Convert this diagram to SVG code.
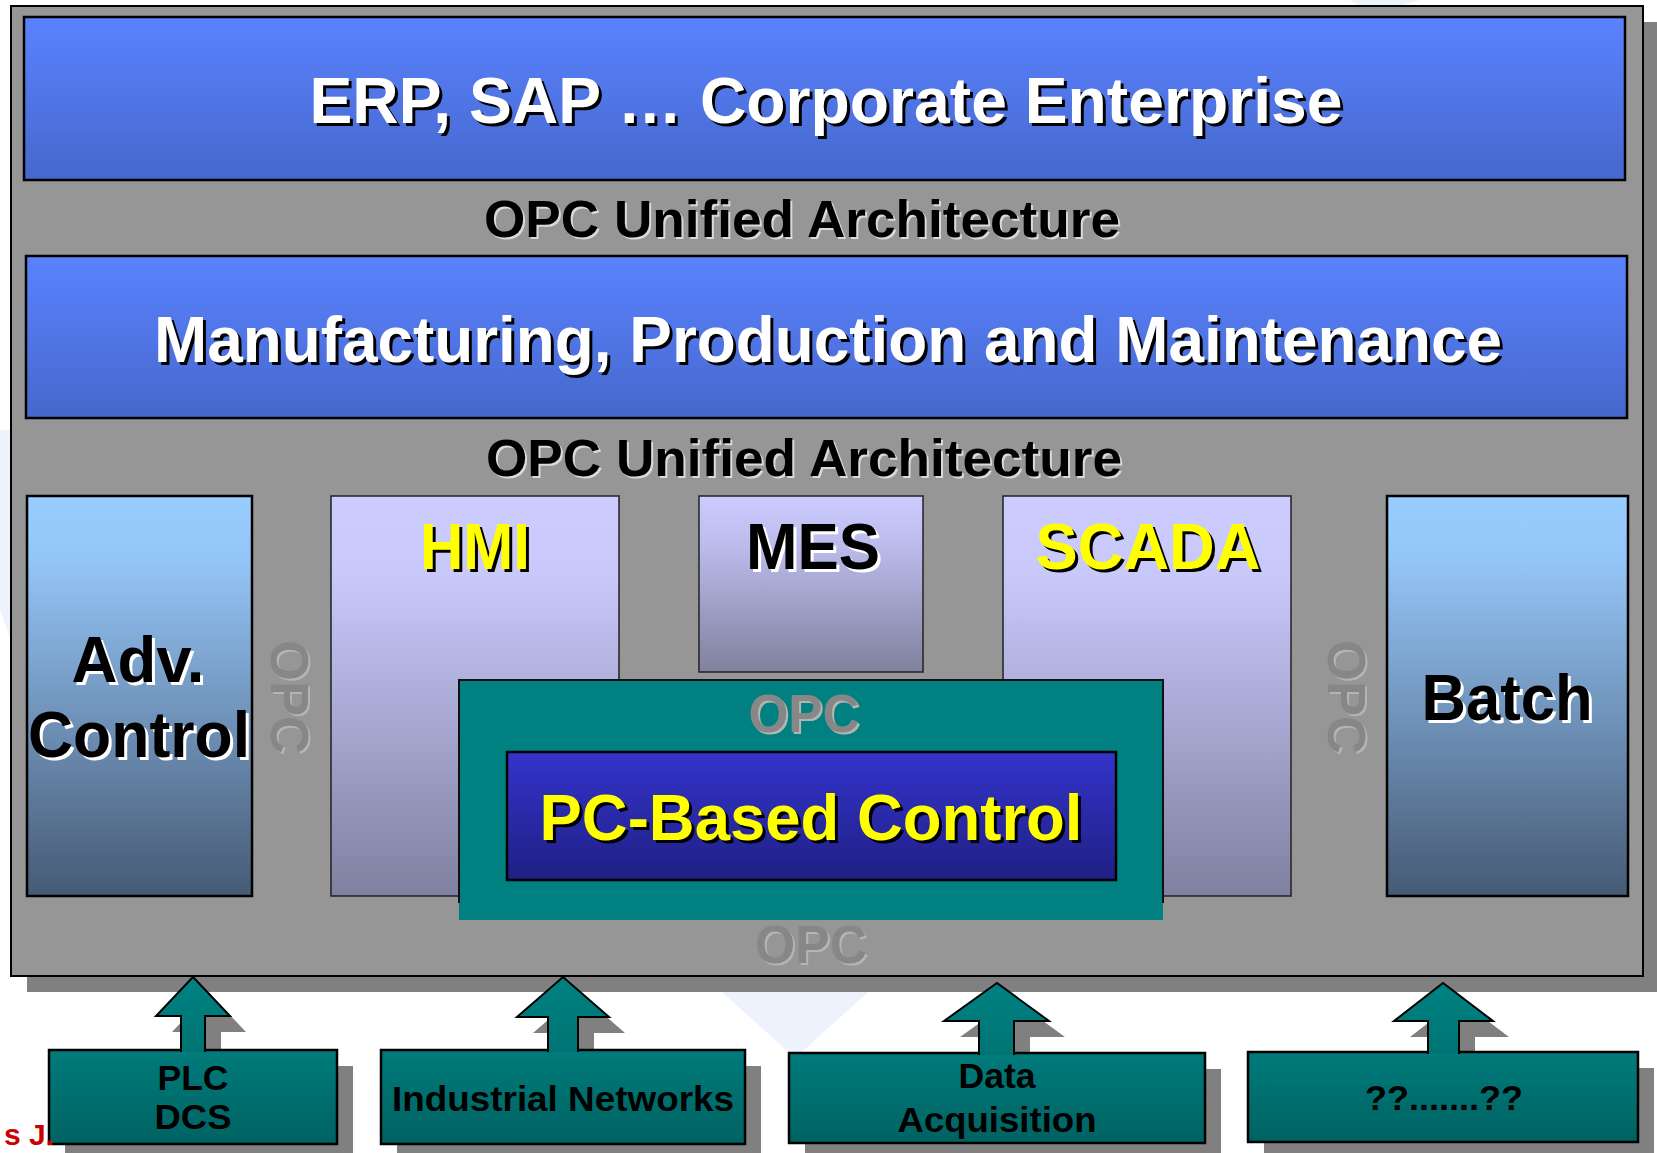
<svg xmlns="http://www.w3.org/2000/svg" width="1657" height="1153" viewBox="0 0 1657 1153">
<defs>
<linearGradient id="gBlue" x1="0" y1="0" x2="0" y2="1"><stop offset="0" stop-color="#5b82ff"/><stop offset="1" stop-color="#4568cc"/></linearGradient>
<linearGradient id="gSky" x1="0" y1="0" x2="0" y2="1"><stop offset="0" stop-color="#99ccff"/><stop offset="0.15" stop-color="#95c6f8"/><stop offset="1" stop-color="#465a74"/></linearGradient>
<linearGradient id="gLav" x1="0" y1="0" x2="0" y2="1"><stop offset="0" stop-color="#ccccff"/><stop offset="0.2" stop-color="#c8c8fb"/><stop offset="1" stop-color="#8080a0"/></linearGradient>
<linearGradient id="gMes" x1="0" y1="0" x2="0" y2="1"><stop offset="0" stop-color="#ccccff"/><stop offset="0.3" stop-color="#babaea"/><stop offset="1" stop-color="#80809e"/></linearGradient>
<linearGradient id="gPC" x1="0" y1="0" x2="0" y2="1"><stop offset="0" stop-color="#3434cc"/><stop offset="1" stop-color="#1f1f84"/></linearGradient>
<linearGradient id="gTeal" x1="0" y1="0" x2="0" y2="1"><stop offset="0" stop-color="#007b7b"/><stop offset="1" stop-color="#006262"/></linearGradient>
<linearGradient id="gArrow" x1="0" y1="0" x2="0" y2="1"><stop offset="0" stop-color="#008282"/><stop offset="1" stop-color="#007474"/></linearGradient>
<style>
text{font-family:"Liberation Sans",Arial,sans-serif;font-weight:bold;text-anchor:middle}
.box{stroke:#000;stroke-width:2.5}
.thin{stroke:#222;stroke-width:1.5}
.shadow{fill:#808080}
.big{font-size:64px}
.ua{font-size:52px}
.opc{font-size:53px}
.lbl{font-size:35px;fill:#000}
.wht{fill:#fff}
.blk{fill:#000}
.yel{fill:#ffff00}
.hl{fill:#dadada}
.og{fill:#878787}
.ohl{fill:#b4b4b4}
.arrow{fill:url(#gArrow);stroke:#000;stroke-width:2}
</style>
</defs>
<rect width="1657" height="1153" fill="#fff"/>
<g id="watermark" fill="#eef2fc">
<polygon points="704,976 886,976 795,1058"/>
<polygon points="0,430 11,430 11,640 0,610"/>
<polygon points="1350,0 1420,0 1400,6 1360,6"/>
</g>
<g id="panel">
<rect x="27" y="22" width="1632" height="970" class="shadow"/>
<rect x="11" y="6" width="1632" height="970" fill="#969696" stroke="#000" stroke-width="2"/>
</g>
<g id="erp">
<rect x="24" y="17" width="1601" height="163" fill="url(#gBlue)" class="box"/>
<text x="829" y="126" class="big blk" textLength="1033" lengthAdjust="spacingAndGlyphs">ERP, SAP … Corporate Enterprise</text>
<text x="826" y="123" class="big wht" textLength="1033" lengthAdjust="spacingAndGlyphs">ERP, SAP … Corporate Enterprise</text>
</g>
<g id="opcua1">
<text x="804" y="239" class="ua hl" textLength="636" lengthAdjust="spacingAndGlyphs">OPC Unified Architecture</text>
<text x="802" y="237" class="ua blk" textLength="636" lengthAdjust="spacingAndGlyphs">OPC Unified Architecture</text>
</g>
<g id="manufacturing">
<rect x="26" y="256" width="1601" height="162" fill="url(#gBlue)" class="box"/>
<text x="831" y="365" class="big blk" textLength="1348" lengthAdjust="spacingAndGlyphs">Manufacturing, Production and Maintenance</text>
<text x="828" y="362" class="big wht" textLength="1348" lengthAdjust="spacingAndGlyphs">Manufacturing, Production and Maintenance</text>
</g>
<g id="opcua2">
<text x="806" y="478" class="ua hl" textLength="636" lengthAdjust="spacingAndGlyphs">OPC Unified Architecture</text>
<text x="804" y="476" class="ua blk" textLength="636" lengthAdjust="spacingAndGlyphs">OPC Unified Architecture</text>
</g>
<g id="advcontrol">
<rect x="27" y="496" width="225" height="400" fill="url(#gSky)" class="box"/>
<text x="141" y="685" class="big wht" textLength="133" lengthAdjust="spacingAndGlyphs">Adv.</text>
<text x="138" y="682" class="big blk" textLength="133" lengthAdjust="spacingAndGlyphs">Adv.</text>
<text x="142" y="760" class="big wht" textLength="222" lengthAdjust="spacingAndGlyphs">Control</text>
<text x="139" y="757" class="big blk" textLength="222" lengthAdjust="spacingAndGlyphs">Control</text>
</g>
<g id="opc-left">
<text transform="translate(273,699) rotate(90)" class="opc ohl" textLength="114" lengthAdjust="spacingAndGlyphs">OPC</text>
<text transform="translate(271,697) rotate(90)" class="opc og" textLength="114" lengthAdjust="spacingAndGlyphs">OPC</text>
</g>
<g id="hmi">
<rect x="331" y="496" width="288" height="400" fill="url(#gLav)" class="thin"/>
<text x="478" y="572" class="big blk" textLength="110" lengthAdjust="spacingAndGlyphs">HMI</text>
<text x="475" y="569" class="big yel" textLength="110" lengthAdjust="spacingAndGlyphs">HMI</text>
</g>
<g id="mes">
<rect x="699" y="496" width="224" height="176" fill="url(#gMes)" class="thin"/>
<text x="816" y="572" class="big wht" textLength="134" lengthAdjust="spacingAndGlyphs">MES</text>
<text x="813" y="569" class="big blk" textLength="134" lengthAdjust="spacingAndGlyphs">MES</text>
</g>
<g id="scada">
<rect x="1003" y="496" width="288" height="400" fill="url(#gLav)" class="thin"/>
<text x="1151" y="572" class="big blk" textLength="225" lengthAdjust="spacingAndGlyphs">SCADA</text>
<text x="1148" y="569" class="big yel" textLength="225" lengthAdjust="spacingAndGlyphs">SCADA</text>
</g>
<g id="opc-right">
<text transform="translate(1330,699) rotate(90)" class="opc ohl" textLength="114" lengthAdjust="spacingAndGlyphs">OPC</text>
<text transform="translate(1328,697) rotate(90)" class="opc og" textLength="114" lengthAdjust="spacingAndGlyphs">OPC</text>
</g>
<g id="batch">
<rect x="1387" y="496" width="241" height="400" fill="url(#gSky)" class="box"/>
<text x="1510" y="723" class="big wht" textLength="171" lengthAdjust="spacingAndGlyphs">Batch</text>
<text x="1507" y="720" class="big blk" textLength="171" lengthAdjust="spacingAndGlyphs">Batch</text>
</g>
<g id="opc-core">
<rect x="459" y="680" width="704" height="240" fill="#008080"/>
<path d="M459,903 V680 H1163 V903" fill="none" stroke="#111" stroke-width="2"/>
<text x="806" y="734" class="opc ohl" textLength="111" lengthAdjust="spacingAndGlyphs">OPC</text>
<text x="804" y="732" class="opc og" textLength="111" lengthAdjust="spacingAndGlyphs">OPC</text>
</g>
<g id="pc-based-control">
<rect x="507" y="752" width="609" height="128" fill="url(#gPC)" class="box"/>
<text x="814" y="843" class="big blk" textLength="543" lengthAdjust="spacingAndGlyphs">PC-Based Control</text>
<text x="811" y="840" class="big yel" textLength="543" lengthAdjust="spacingAndGlyphs">PC-Based Control</text>
</g>
<g id="opc-bottom">
<text x="813" y="965" class="opc ohl" textLength="112" lengthAdjust="spacingAndGlyphs">OPC</text>
<text x="811" y="963" class="opc og" textLength="112" lengthAdjust="spacingAndGlyphs">OPC</text>
</g>
<g id="shadows" class="shadow">
<rect x="65" y="1066" width="288" height="94"/>
<rect x="397" y="1066" width="364" height="94"/>
<rect x="805" y="1069" width="416" height="90"/>
<rect x="1264" y="1068" width="390" height="90"/>
<path d="M197,1066 V1032 H172 L209,993 L246,1032 H221 V1066 Z"/>
<path d="M564,1066 V1033 H533 L579,993 L625,1033 H594 V1066 Z"/>
<path d="M995,1069 V1037 H960 L1013,999 L1065,1037 H1030 V1069 Z"/>
<path d="M1444,1068 V1037 H1410 L1459,999 L1509,1037 H1475 V1068 Z"/>
</g>
<g id="plc-dcs">
<rect x="49" y="1050" width="288" height="94" fill="url(#gTeal)" class="box"/>
<text x="193" y="1090" class="lbl" textLength="71" lengthAdjust="spacingAndGlyphs">PLC</text>
<text x="193" y="1129" class="lbl" textLength="77" lengthAdjust="spacingAndGlyphs">DCS</text>
</g>
<g id="industrial-networks">
<rect x="381" y="1050" width="364" height="94" fill="url(#gTeal)" class="box"/>
<text x="563" y="1111" class="lbl" textLength="342" lengthAdjust="spacingAndGlyphs">Industrial Networks</text>
</g>
<g id="data-acquisition">
<rect x="789" y="1053" width="416" height="90" fill="url(#gTeal)" class="box"/>
<text x="997" y="1088" class="lbl" textLength="77" lengthAdjust="spacingAndGlyphs">Data</text>
<text x="997" y="1132" class="lbl" textLength="199" lengthAdjust="spacingAndGlyphs">Acquisition</text>
</g>
<g id="unknown">
<rect x="1248" y="1052" width="390" height="90" fill="url(#gTeal)" class="box"/>
<text x="1444" y="1110" class="lbl" textLength="158" lengthAdjust="spacingAndGlyphs">??.......??</text>
</g>
<g id="connectors">
<path class="arrow" d="M181,1052 V1016 H156 L193,977 L230,1016 H205 V1052"/>
<path class="arrow" d="M548,1052 V1017 H517 L563,977 L609,1017 H578 V1052"/>
<path class="arrow" d="M979,1055 V1021 H944 L997,983 L1049,1021 H1014 V1055"/>
<path class="arrow" d="M1428,1054 V1021 H1394 L1443,983 L1493,1021 H1459 V1054"/>
</g>
<text x="4" y="1145" style="font-size:30px;fill:#cc0000;text-anchor:start">s J.</text>
</svg>
